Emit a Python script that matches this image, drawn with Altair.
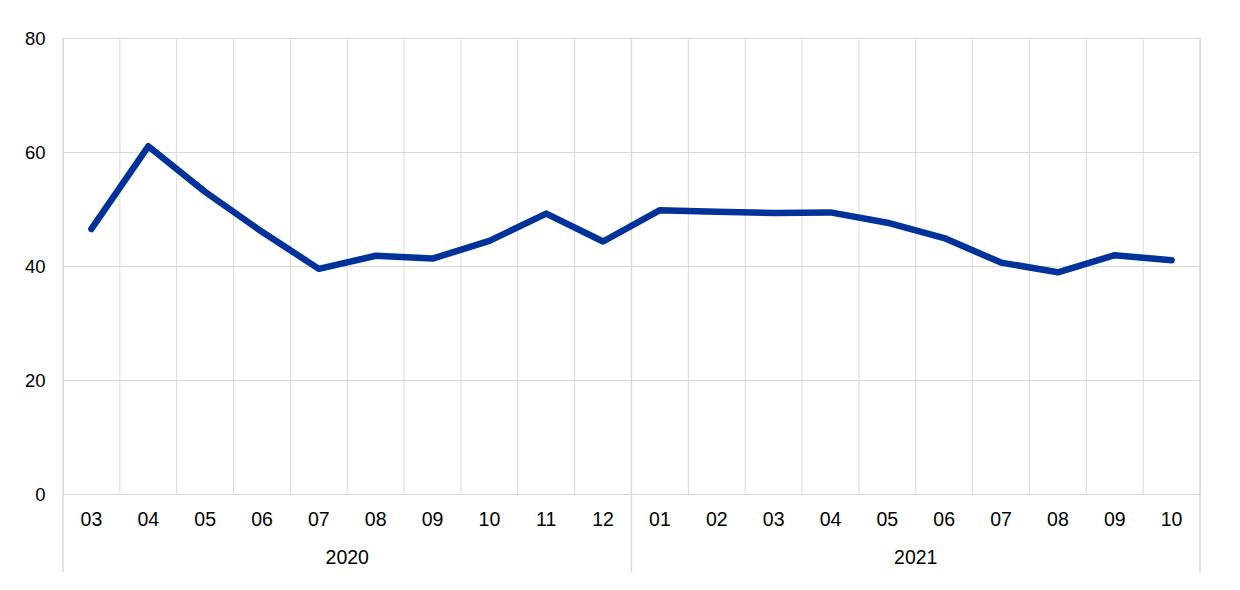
import altair as alt
import pandas as pd

months = ["03", "04", "05", "06", "07", "08", "09", "10", "11", "12",
          "01", "02", "03", "04", "05", "06", "07", "08", "09", "10"]
values = [46.5, 61.0, 53.0, 46.0, 39.5, 41.8, 41.3, 44.4, 49.2, 44.3,
          49.8, 49.5, 49.3, 49.4, 47.6, 44.9, 40.6, 38.9, 41.9, 41.0]
years = ["2020", "2021"]
year_spans = [(0, 10), (10, 20)]

W, H = 1137, 456
FONT = "Liberation Sans"
GRID = "#d9d9d9"

line_df = pd.DataFrame({"pos": [i + 0.5 for i in range(len(months))], "value": values})
month_df = pd.DataFrame({"pos": [i + 0.5 for i in range(len(months))], "label": months})
year_df = pd.DataFrame({"pos": [(a + b) / 2 for a, b in year_spans], "label": years})
short_df = pd.DataFrame({"pos": [i for i in range(1, len(months)) if i != 10]})
long_df = pd.DataFrame({"pos": [0, 10, 20]})

xs = alt.Scale(domain=[0, 20], nice=False, zero=False)
ys = alt.Scale(domain=[0, 80], nice=False)

base_y = alt.Y("value:Q", scale=ys,
               axis=alt.Axis(values=[0, 20, 40, 60, 80], grid=True, gridColor=GRID,
                             gridWidth=1, domain=False, ticks=False,
                             labelFontSize=18.5, labelFont=FONT, labelColor="#000000",
                             labelPadding=18, title=None))

short_rules = alt.Chart(short_df).mark_rule(color=GRID, strokeWidth=1).encode(
    x=alt.X("pos:Q", scale=xs, axis=None),
    y=alt.value(0), y2=alt.value(H))

long_rules = alt.Chart(long_df).mark_rule(color=GRID, strokeWidth=1.5).encode(
    x=alt.X("pos:Q", scale=xs, axis=None),
    y=alt.value(0), y2=alt.value(H + 78))

line = alt.Chart(line_df).mark_line(color="#003299", strokeWidth=6.5,
                                    strokeCap="round", strokeJoin="round").encode(
    x=alt.X("pos:Q", scale=xs, axis=None),
    y=base_y)

month_text = alt.Chart(month_df).mark_text(fontSize=19.5, font=FONT, color="#000000",
                                           baseline="middle", align="center").encode(
    x=alt.X("pos:Q", scale=xs, axis=None),
    y=alt.value(H + 26),
    text="label:N")

year_text = alt.Chart(year_df).mark_text(fontSize=19.5, font=FONT, color="#000000",
                                         baseline="middle", align="center").encode(
    x=alt.X("pos:Q", scale=xs, axis=None),
    y=alt.value(H + 64),
    text="label:N")

chart = alt.layer(short_rules, long_rules, line, month_text, year_text).properties(
    width=W, height=H,
    autosize=alt.AutoSizeParams(type="none"),
    padding={"left": 55, "top": 30, "right": 32, "bottom": 90},
).configure_view(strokeWidth=0).configure(background="white")

chart.save("out.html", embed_options={"renderer": "svg", "actions": False})
